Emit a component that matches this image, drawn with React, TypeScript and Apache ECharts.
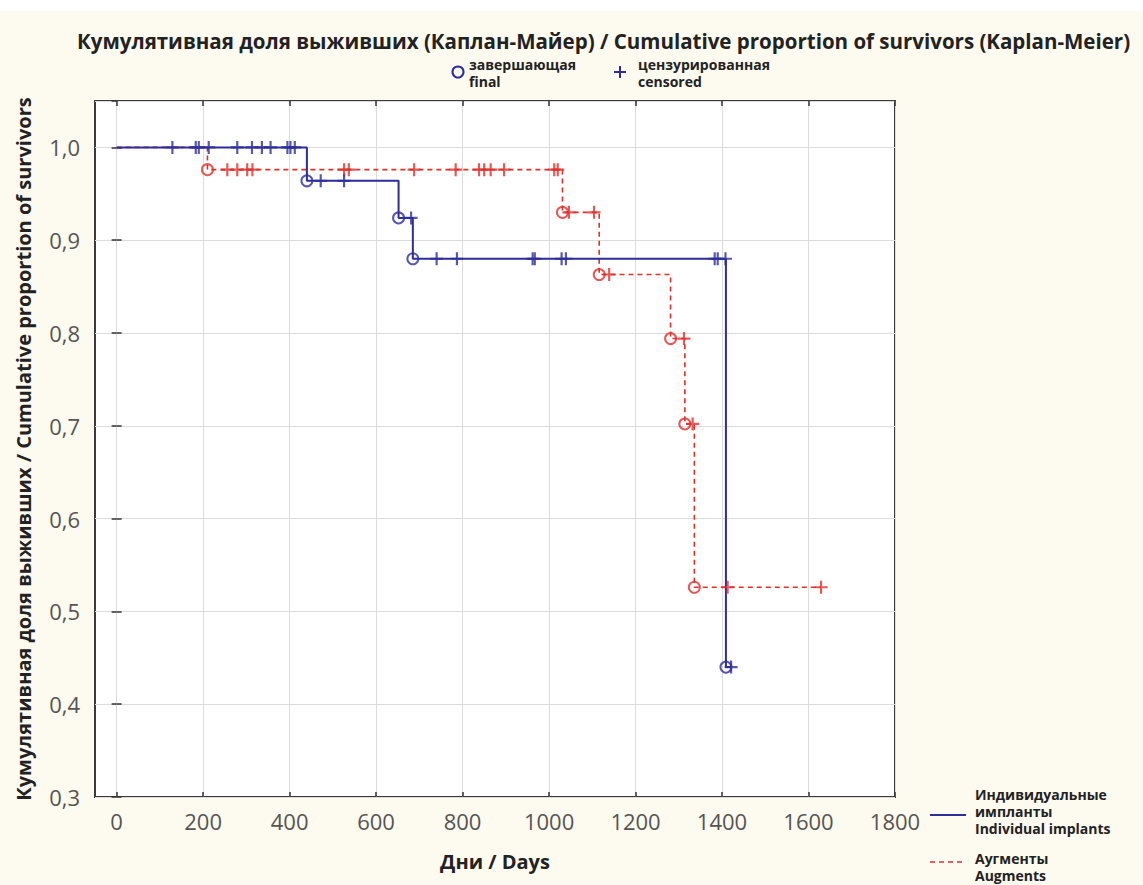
import React, { useEffect, useRef } from "react";
import * as echarts from "echarts";

// ---- data ----
const xTicks = [0, 200, 400, 600, 800, 1000, 1200, 1400, 1600, 1800];

// Individual implants (blue): events (final) and censored observations
const blueStartDay = 0;
const blueStartLevel = 1.0;
const blueEventDays = [440, 652, 685, 1409];
const blueEventLevels = [0.964, 0.924, 0.88, 0.44];
const blueEndDay = 1421;
const blueCensorDays = [129, 183, 190, 213, 279, 313, 336, 356, 395, 402, 412, 472, 526, 681, 740, 787, 962, 967, 1029, 1039, 1383, 1390, 1408, 1421];
const blueCensorLevels = [1, 1, 1, 1, 1, 1, 1, 1, 1, 1, 1, 0.964, 0.964, 0.924, 0.88, 0.88, 0.88, 0.88, 0.88, 0.88, 0.88, 0.88, 0.88, 0.44];

// Augments (red)
const redStartDay = 0;
const redStartLevel = 1.0;
const redEventDays = [210, 1031, 1116, 1281, 1314, 1336];
const redEventLevels = [0.976, 0.93, 0.863, 0.794, 0.702, 0.526];
const redEndDay = 1629;
const redCensorDays = [256, 279, 302, 314, 526, 537, 688, 784, 838, 850, 865, 896, 1012, 1020, 1046, 1104, 1139, 1312, 1332, 1413, 1629];
const redCensorLevels = [0.976, 0.976, 0.976, 0.976, 0.976, 0.976, 0.976, 0.976, 0.976, 0.976, 0.976, 0.976, 0.976, 0.976, 0.93, 0.93, 0.863, 0.794, 0.702, 0.526, 0.526];

const TITLE = "Кумулятивная доля выживших (Каплан-Майер) / Cumulative proportion of survivors (Kaplan-Meier)";
const Y_NAME = "Кумулятивная доля выживших / Cumulative proportion of survivors";
const X_NAME = "Дни / Days";
const LEGEND_FINAL = ["завершающая", "final"];
const LEGEND_CENSORED = ["цензурированная", "censored"];
const LEGEND_BLUE = ["Индивидуальные", "импланты", "Individual implants"];
const LEGEND_RED = ["Аугменты", "Augments"];

const BLUE = "#2d2d9c";
const RED = "#e0302c";
const FONT = "'Open Sans', 'Noto Sans', sans-serif";
const PLUS = "path://M5,0h2v5h5v2h-5v5h-2v-5h-5v-2h5z";

function stepData(d0: number, l0: number, days: number[], levels: number[], endDay: number) {
  const out: number[][] = [[d0, l0]];
  days.forEach((d, i) => out.push([d, levels[i]]));
  out.push([endDay, levels[levels.length - 1]]);
  return out;
}

function textLines(lines: string[], x: number, y0: number, step: number, font: string) {
  return lines.map((t, i) => ({
    type: "text",
    x,
    y: y0 + i * step,
    style: { text: t, font, fill: "#222", verticalAlign: "middle" },
  }));
}

export default function App() {
  const ref = useRef<HTMLDivElement>(null);
  useEffect(() => {
    document.body.style.margin = "0";
    const chart = echarts.init(ref.current!, null, { renderer: "svg" });
    const tickStyle = { inside: true, length: 5, lineStyle: { color: "#333", width: 1.5 } };
    const legendFont = `bold 14px ${FONT}`;
    chart.setOption({
      animation: false,
      backgroundColor: "#fdfaf0",
      title: {
        text: TITLE,
        left: 72,
        top: 25,
        textStyle: { fontSize: 20.5, fontWeight: "bold", color: "#222", fontFamily: FONT, lineHeight: 22 },
      },
      grid: {
        left: 95,
        right: 248,
        top: 101,
        bottom: 88,
        show: true,
        backgroundColor: "#ffffff",
        borderColor: "#3a3a3a",
        borderWidth: 2,
      },
      xAxis: [
        {
          type: "value",
          min: -50,
          max: 1800,
          name: X_NAME,
          nameLocation: "middle",
          nameGap: 54,
          nameTextStyle: { fontSize: 20, fontWeight: "bold", color: "#222", fontFamily: FONT },
          axisLine: { show: false },
          axisTick: { ...tickStyle, customValues: xTicks },
          axisLabel: {
            fontSize: 22,
            color: "#555",
            fontFamily: FONT,
            margin: 13,
            customValues: xTicks,
            formatter: (v: number) => String(v),
          },
          splitLine: { show: true, lineStyle: { color: "#dcdcdc", width: 1 } },
        },
        {
          type: "value",
          position: "top",
          min: -50,
          max: 1800,
          axisLine: { show: false },
          axisTick: { ...tickStyle, customValues: xTicks },
          axisLabel: { show: false, customValues: xTicks },
          splitLine: { show: false },
        },
      ],
      yAxis: [
        {
          type: "value",
          min: 0.3,
          max: 1.05,
          interval: 0.1,
          name: Y_NAME,
          nameLocation: "middle",
          nameGap: 62,
          nameTextStyle: { fontSize: 20, fontWeight: "bold", color: "#222", fontFamily: FONT },
          axisLine: { show: false },
          axisTick: tickStyle,
          axisLabel: {
            fontSize: 22,
            color: "#555",
            fontFamily: FONT,
            margin: 15,
            showMaxLabel: false,
            formatter: (v: number) => (Math.abs(v - 1.05) < 1e-6 ? "" : v.toFixed(1).replace(".", ",")),
          },
          splitLine: { show: true, lineStyle: { color: "#dcdcdc", width: 1 } },
        },
        {
          type: "value",
          position: "right",
          min: 0.3,
          max: 1.05,
          interval: 0.1,
          axisLine: { show: false },
          axisTick: tickStyle,
          axisLabel: { show: false },
          splitLine: { show: false },
        },
      ],
      graphic: [
        { type: "rect", shape: { x: 0, y: 0, width: 1143, height: 11 }, style: { fill: "#ffffff" }, silent: true },
        // top legend
        { type: "circle", shape: { cx: 458, cy: 72, r: 5.5 }, style: { fill: "none", stroke: BLUE, lineWidth: 2 } },
        ...textLines(LEGEND_FINAL, 469, 64, 17, legendFont),
        { type: "rect", shape: { x: 614, y: 71, width: 12, height: 2 }, style: { fill: BLUE } },
        { type: "rect", shape: { x: 619, y: 66, width: 2, height: 12 }, style: { fill: BLUE } },
        ...textLines(LEGEND_CENSORED, 638, 64, 17, legendFont),
        // bottom-right legend
        { type: "line", shape: { x1: 930, y1: 815, x2: 966, y2: 815 }, style: { stroke: BLUE, lineWidth: 2 } },
        ...textLines(LEGEND_BLUE, 975, 794, 17, legendFont),
        { type: "line", shape: { x1: 930, y1: 862, x2: 966, y2: 862 }, style: { stroke: RED, lineWidth: 1.5, lineDash: [5, 4] } },
        ...textLines(LEGEND_RED, 975, 858, 17, legendFont),
      ],
      series: [
        {
          name: "Аугменты / Augments",
          type: "line",
          step: "end",
          symbol: "none",
          data: stepData(redStartDay, redStartLevel, redEventDays, redEventLevels, redEndDay),
          lineStyle: { color: RED, width: 1.6, type: [5, 4] },
          z: 2,
        },
        {
          name: "Индивидуальные импланты / Individual implants",
          type: "line",
          step: "end",
          symbol: "none",
          data: stepData(blueStartDay, blueStartLevel, blueEventDays, blueEventLevels, blueEndDay),
          lineStyle: { color: BLUE, width: 2 },
          z: 3,
        },
        {
          name: "red final",
          type: "scatter",
          symbol: "circle",
          symbolSize: 11,
          data: redEventDays.map((d, i) => [d, redEventLevels[i]]),
          itemStyle: { color: "rgba(255,255,255,0)", borderColor: RED, borderWidth: 2 },
          z: 4,
        },
        {
          name: "red censored",
          type: "scatter",
          symbol: PLUS,
          symbolSize: 13,
          data: redCensorDays.map((d, i) => [d, redCensorLevels[i]]),
          itemStyle: { color: RED },
          z: 4,
        },
        {
          name: "blue final",
          type: "scatter",
          symbol: "circle",
          symbolSize: 11,
          data: blueEventDays.map((d, i) => [d, blueEventLevels[i]]),
          itemStyle: { color: "rgba(255,255,255,0)", borderColor: BLUE, borderWidth: 2 },
          z: 5,
        },
        {
          name: "blue censored",
          type: "scatter",
          symbol: PLUS,
          symbolSize: 13,
          data: blueCensorDays.map((d, i) => [d, blueCensorLevels[i]]),
          itemStyle: { color: BLUE },
          z: 5,
        },
      ],
    });
    return () => chart.dispose();
  }, []);
  return <div ref={ref} style={{ width: 1143, height: 885 }} />;
}
